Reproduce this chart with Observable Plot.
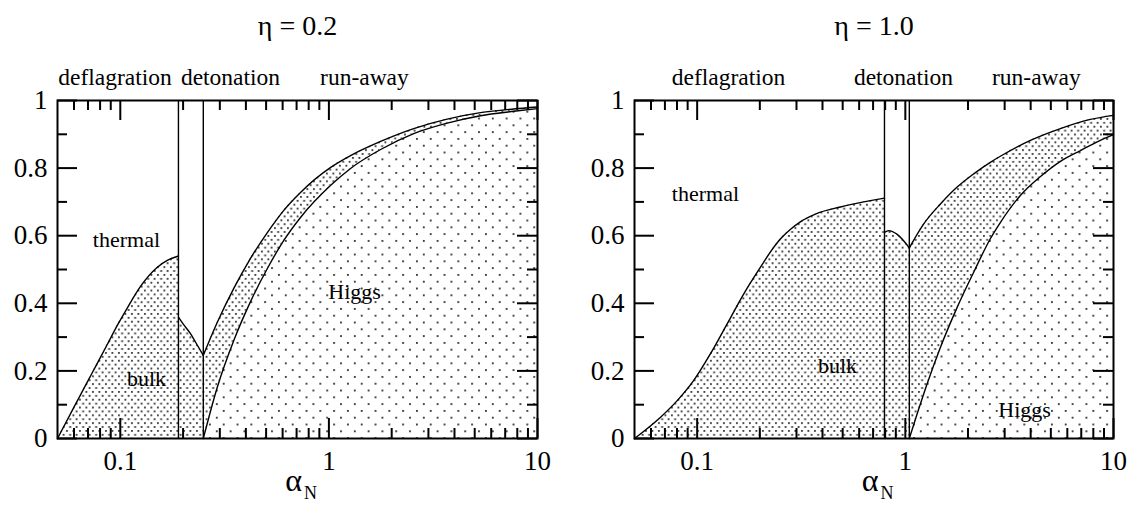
<!DOCTYPE html>
<html>
<head>
<meta charset="utf-8">
<script src="https://cdn.jsdelivr.net/npm/d3@7"></script>
<script src="https://cdn.jsdelivr.net/npm/@observablehq/plot@0.6"></script>
<style>
  html, body { margin: 0; padding: 0; background: #fff; }
  #fig { position: relative; width: 1132px; height: 506px; overflow: hidden; }
  .panel { position: absolute; top: 0; }
  .panel svg { display: block; }
  #fig svg, #fig svg text { font-family: "Liberation Serif", "Times New Roman", Times, serif !important; }
</style>
</head>
<body>
<div id="fig">
  <div class="panel" id="p1" style="left:0px"></div>
  <div class="panel" id="p2" style="left:566px"></div>
</div>
<script>
// ---------- axes ----------
const xDomain = [0.05, 10];
const xMajor = [0.1, 1, 10];
const xMajorLabels = ["0.1", "1", "10"];
const xMinor = [0.06, 0.07, 0.08, 0.09, 0.2, 0.3, 0.4, 0.5, 0.6, 0.7, 0.8, 0.9, 2, 3, 4, 5, 6, 7, 8, 9];
const yMajor = [0, 0.2, 0.4, 0.6, 0.8, 1];
const yMajorLabels = ["0", "0.2", "0.4", "0.6", "0.8", "1"];
const yMinor = [0.1, 0.3, 0.5, 0.7, 0.9];
const regionNames = ["deflagration", "detonation", "run-away"];
const areaNames = ["thermal", "bulk", "Higgs"];

// ---------- eta = 0.2 ----------
const title02 = "η = 0.2";
const bounds02 = [0.19, 0.25];
const defl02A = [0.05, 0.0599, 0.072, 0.0866, 0.0966, 0.108, 0.125, 0.150, 0.168, 0.19];
const defl02V = [0, 0.092, 0.185, 0.278, 0.334, 0.386, 0.450, 0.506, 0.527, 0.540];
const det02A = [0.19, 0.20, 0.217, 0.23, 0.25];
const det02V = [0.359, 0.339, 0.31, 0.284, 0.246];
const up02A = [0.25, 0.2915, 0.35, 0.421, 0.507, 0.608, 0.731, 1.02, 1.27, 1.77, 2.55, 3.69, 5.33, 7.7, 10];
const up02V = [0.246, 0.343, 0.444, 0.533, 0.609, 0.675, 0.728, 0.802, 0.837, 0.879, 0.917, 0.945, 0.964, 0.975, 0.981];
const lo02A = [0.25, 0.2915, 0.35, 0.421, 0.507, 0.608, 0.731, 1.02, 1.27, 1.77, 2.55, 3.69, 5.33, 7.7, 10];
const lo02V = [0, 0.151, 0.290, 0.405, 0.503, 0.586, 0.654, 0.749, 0.799, 0.855, 0.902, 0.933, 0.955, 0.968, 0.976];
const region02A = [0.0943, 0.3375, 1.48];
const label02A = [0.107, 0.1336, 1.327];
const label02V = [0.566, 0.154, 0.414];

// ---------- eta = 1.0 ----------
const title10 = "η = 1.0";
const bounds10 = [0.794, 1.045];
const defl10A = [0.05, 0.0667, 0.0802, 0.0963, 0.1159, 0.1393, 0.1675, 0.2015, 0.225, 0.251, 0.281, 0.313, 0.37, 0.488, 0.794];
const defl10V = [0, 0.063, 0.112, 0.172, 0.251, 0.339, 0.428, 0.507, 0.552, 0.590, 0.619, 0.641, 0.664, 0.685, 0.711];
const det10A = [0.794, 0.832, 0.914, 1.045];
const det10V = [0.610, 0.615, 0.604, 0.564];
const up10A = [1.045, 1.226, 1.475, 1.774, 2.13, 2.56, 2.86, 3.99, 5.56, 7.75, 10];
const up10V = [0.564, 0.635, 0.694, 0.744, 0.783, 0.817, 0.835, 0.882, 0.917, 0.944, 0.956];
const lo10A = [1.045, 1.14, 1.273, 1.475, 1.774, 2.13, 2.56, 2.86, 3.57, 4.46, 5.56, 6.94, 8.65, 10];
const lo10V = [0, 0.073, 0.162, 0.270, 0.388, 0.492, 0.591, 0.639, 0.719, 0.775, 0.820, 0.852, 0.882, 0.899];
const region10A = [0.1415, 0.98, 4.26];
const label10A = [0.1096, 0.472, 3.74];
const label10V = [0.704, 0.195, 0.065];

const rows = (A, V) => A.map((a, i) => ({a, v: V[i]}));

function addPatterns(svg, id) {
  const defs = d3.select(svg).insert("defs", ":first-child");
  const dense = defs.append("pattern").attr("id", "dense-" + id)
    .attr("patternUnits", "userSpaceOnUse").attr("width", 6.5).attr("height", 7.8);
  dense.append("rect").attr("width", 6.5).attr("height", 7.8).attr("fill", "white");
  dense.append("rect").attr("x", 1).attr("y", 1).attr("width", 1.8).attr("height", 1.8).attr("fill", "#333");
  dense.append("rect").attr("x", 4.25).attr("y", 4.9).attr("width", 1.8).attr("height", 1.8).attr("fill", "#333");
  const sparse = defs.append("pattern").attr("id", "sparse-" + id)
    .attr("patternUnits", "userSpaceOnUse").attr("width", 13.8).attr("height", 13.6);
  sparse.append("rect").attr("width", 13.8).attr("height", 13.6).attr("fill", "white");
  sparse.append("rect").attr("x", 2).attr("y", 2).attr("width", 1.8).attr("height", 1.8).attr("fill", "#2a2a2a");
  sparse.append("rect").attr("x", 8.9).attr("y", 8.8).attr("width", 1.8).attr("height", 1.8).attr("fill", "#2a2a2a");
}

function panel(cfg) {
  const {id, title, bounds, defl, det, up, lo, regionA, labelA, labelV, ml, mr} = cfg;
  const W = 566 - ml - mr, H = 506 - 100 - 68;
  const dense = `url(#dense-${id})`, sparse = `url(#sparse-${id})`;
  const curve = "monotone-x";
  const line = {x: "a", y: "v", stroke: "black", strokeWidth: 1.4, curve};
  const tks = {stroke: "#000", strokeWidth: 2, strokeOpacity: 1};
  const svg = Plot.plot({
    width: 566, height: 506,
    marginLeft: ml, marginRight: mr, marginTop: 100, marginBottom: 68,
    x: {type: "log", domain: xDomain, axis: null},
    y: {domain: [0, 1], axis: null},
    style: {fontSize: "27px", color: "black", background: "white", overflow: "visible"},
    marks: [
      Plot.areaY(defl, {x: "a", y: "v", fill: dense, curve}),
      Plot.areaY(det, {x: "a", y: "v", fill: dense, curve}),
      Plot.areaY(up, {x: "a", y: "v", fill: dense, curve}),
      Plot.areaY(lo, {x: "a", y: "v", fill: sparse, curve}),
      Plot.line(defl, line),
      Plot.line(det, line),
      Plot.line(up, line),
      Plot.line(lo, line),
      Plot.ruleX(bounds, {stroke: "black", strokeWidth: 1.4}),
      // inward ticks on all four sides
      Plot.tickX(xMajor, {x: d => d, insetTop: H - 20, ...tks}),
      Plot.tickX(xMinor, {x: d => d, insetTop: H - 10, ...tks}),
      Plot.tickX(xMajor, {x: d => d, insetBottom: H - 20, ...tks}),
      Plot.tickX(xMinor, {x: d => d, insetBottom: H - 10, ...tks}),
      Plot.tickY(yMajor, {y: d => d, insetRight: W - 20, ...tks}),
      Plot.tickY(yMinor, {y: d => d, insetRight: W - 10, ...tks}),
      Plot.tickY(yMajor, {y: d => d, insetLeft: W - 20, ...tks}),
      Plot.tickY(yMinor, {y: d => d, insetLeft: W - 10, ...tks}),
      Plot.axisX(xMajor, {anchor: "bottom", tickSize: 0, tickPadding: 12, fontSize: 27, label: null,
        tickFormat: d => xMajorLabels[xMajor.indexOf(d)]}),
      Plot.axisY(yMajor, {anchor: "left", tickSize: 0, tickPadding: 10, fontSize: 27, label: null,
        tickFormat: d => yMajorLabels[yMajor.indexOf(d)]}),
      Plot.frame({stroke: "black", strokeWidth: 2}),
      Plot.text(areaNames, {x: labelA, y: labelV, lineAnchor: "bottom", textAnchor: "middle", fontSize: 22}),
      Plot.text(regionNames, {x: regionA, frameAnchor: "top", dy: -16, lineAnchor: "bottom", textAnchor: "middle", fontSize: 23.5}),
      Plot.text([title], {frameAnchor: "top", dy: -66, lineAnchor: "bottom", fontSize: 28}),
      Plot.text(["α"], {frameAnchor: "bottom", dx: -4, dy: 52, lineAnchor: "bottom", fontSize: 32}),
      Plot.text(["N"], {frameAnchor: "bottom", dx: 13, dy: 60, lineAnchor: "bottom", fontSize: 18})
    ]
  });
  addPatterns(svg, id);
  return svg;
}

document.getElementById("p1").appendChild(panel({
  id: "a", title: title02, bounds: bounds02,
  defl: rows(defl02A, defl02V), det: rows(det02A, det02V),
  up: rows(up02A, up02V), lo: rows(lo02A, lo02V),
  regionA: region02A, labelA: label02A, labelV: label02V, ml: 57, mr: 29
}));
document.getElementById("p2").appendChild(panel({
  id: "b", title: title10, bounds: bounds10,
  defl: rows(defl10A, defl10V), det: rows(det10A, det10V),
  up: rows(up10A, up10V), lo: rows(lo10A, lo10V),
  regionA: region10A, labelA: label10A, labelV: label10V, ml: 68, mr: 19
}));
</script>
</body>
</html>
